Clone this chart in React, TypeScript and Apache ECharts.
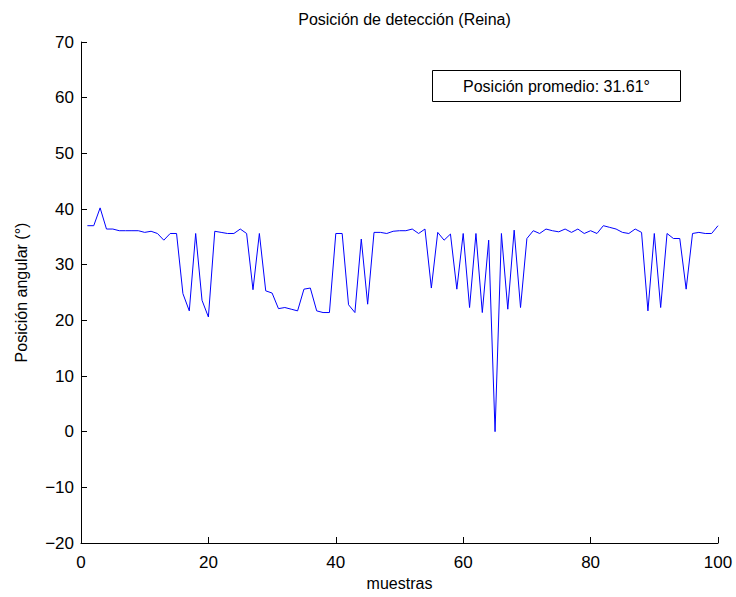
import React, { useEffect, useRef } from "react";
import * as echarts from "echarts";

const samples: number[] = Array.from({ length: 100 }, (_, i) => i + 1);
const angles: number[] = [
  37.0, 37.0, 40.2, 36.4, 36.4, 36.1, 36.1, 36.1, 36.1, 35.8,
  36.0, 35.6, 34.4, 35.6, 35.6, 24.8, 21.7, 35.6, 23.6, 20.6,
  36.0, 35.8, 35.6, 35.6, 36.4, 35.6, 25.5, 35.6, 25.3, 24.9,
  22.1, 22.3, 22.0, 21.7, 25.6, 25.8, 21.7, 21.4, 21.4, 35.6,
  35.6, 22.8, 21.4, 34.6, 22.9, 35.8, 35.8, 35.6, 36.0, 36.1,
  36.1, 36.4, 35.6, 36.4, 25.8, 35.8, 34.4, 35.5, 25.6, 35.6,
  22.3, 35.6, 21.4, 34.4, 0.0, 35.6, 22.0, 36.2, 22.3, 34.7,
  36.1, 35.6, 36.4, 36.1, 35.9, 36.4, 35.8, 36.4, 35.6, 36.1,
  35.6, 37.0, 36.7, 36.4, 35.8, 35.6, 36.4, 35.8, 21.7, 35.6,
  22.3, 35.6, 34.7, 34.7, 25.6, 35.6, 35.8, 35.6, 35.6, 37.0,
];
const titleText = "Posición de detección (Reina)";
const xName = "muestras";
const yName = "Posición angular (°)";
const boxText = "Posición promedio: 31.61°";

const FONT = "Liberation Sans, Arial, Helvetica, sans-serif";

export default function App() {
  const ref = useRef<HTMLDivElement>(null);
  useEffect(() => {
    if (!ref.current) return;
    const chart = echarts.init(ref.current, null, { renderer: "svg" });
    chart.setOption({
      animation: false,
      backgroundColor: "#ffffff",
      title: {
        text: titleText,
        left: 399.5,
        textAlign: "center",
        top: 6,
        textStyle: { fontFamily: FONT, fontSize: 16, fontWeight: "normal", color: "#000" },
      },
      grid: { left: 81, right: 18, top: 42, bottom: 54 },
      xAxis: {
        type: "value",
        min: 0,
        max: 100,
        interval: 20,
        name: xName,
        nameLocation: "middle",
        nameGap: 30,
        nameTextStyle: { fontFamily: FONT, fontSize: 16, color: "#000" },
        axisLine: { onZero: false, lineStyle: { color: "#000", width: 1 } },
        axisTick: { inside: true, length: 6, lineStyle: { color: "#000" } },
        axisLabel: { fontFamily: FONT, fontSize: 17, color: "#000", margin: 11 },
        splitLine: { show: false },
      },
      yAxis: {
        type: "value",
        min: -20,
        max: 70,
        interval: 10,
        name: yName,
        nameLocation: "middle",
        nameGap: 52,
        nameTextStyle: { fontFamily: FONT, fontSize: 16, color: "#000" },
        axisLine: { onZero: false, lineStyle: { color: "#000", width: 1 } },
        axisTick: { inside: true, length: 6, lineStyle: { color: "#000" } },
        axisLabel: {
          fontFamily: FONT,
          fontSize: 17,
          color: "#000",
          margin: 7,
          formatter: (v: number) => String(v).replace("-", "\u2212"),
        },
        splitLine: { show: false },
      },
      graphic: [
        {
          type: "group",
          left: 432,
          top: 70,
          children: [
            {
              type: "rect",
              shape: { x: 0, y: 0, width: 248, height: 31 },
              style: { fill: "#fff", stroke: "#000", lineWidth: 1 },
            },
            {
              type: "text",
              x: 124,
              y: 16,
              style: {
                text: boxText,
                fontFamily: FONT,
                fontSize: 16,
                fill: "#000",
                align: "center",
                verticalAlign: "middle",
              },
            },
          ],
        },
      ],
      series: [
        {
          type: "line",
          data: samples.map((s, i) => [s, angles[i]]),
          showSymbol: false,
          symbol: "none",
          lineStyle: { color: "#0000ff", width: 1 },
          itemStyle: { color: "#0000ff" },
        },
      ],
    });
    return () => chart.dispose();
  }, []);
  return (
    <div
      ref={ref}
      style={{ position: "fixed", left: 0, top: 0, width: 736, height: 597 }}
    />
  );
}
